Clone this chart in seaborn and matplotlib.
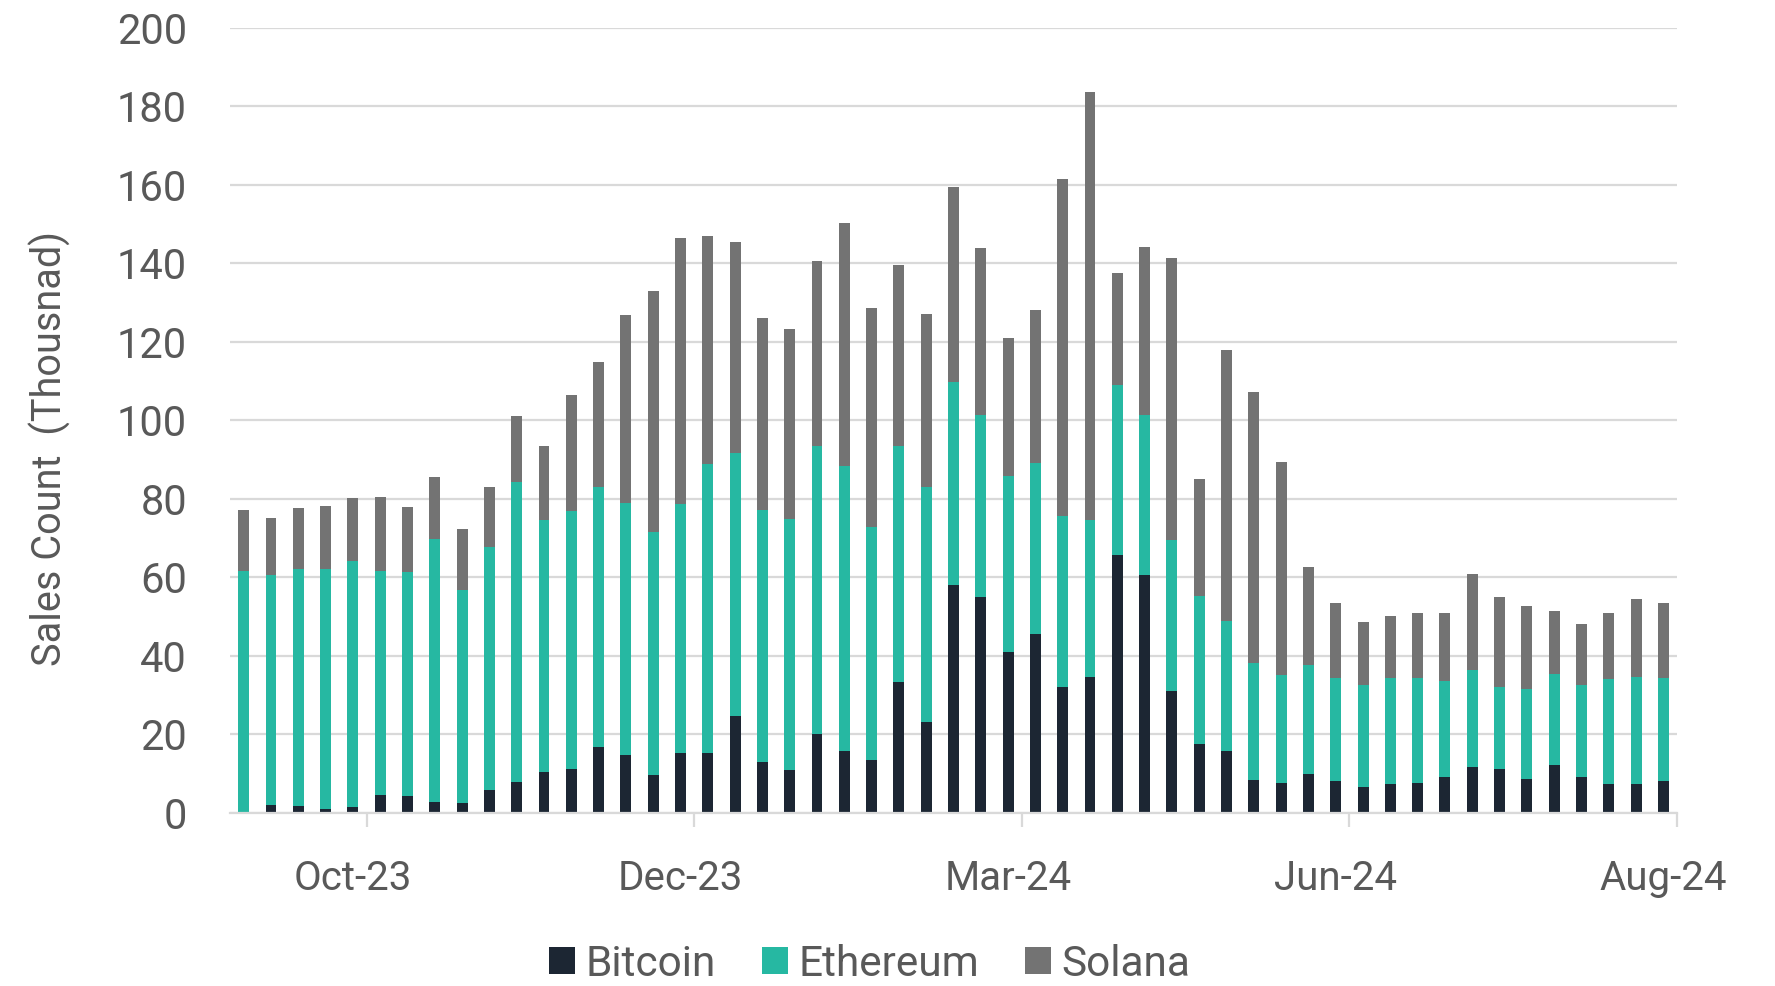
import numpy as np
import pandas as pd
import matplotlib
matplotlib.use("Agg")
import matplotlib.pyplot as plt
import seaborn as sns
from matplotlib.patches import Patch

# ---- data (thousands of sales, weekly) ----
bitcoin = [0.0, 2.1, 1.7, 1.1, 1.5, 4.6, 4.3, 2.9, 2.5, 5.9,
           7.9, 10.5, 11.3, 16.9, 14.8, 9.7, 15.2, 15.3, 24.6, 13.0,
           10.9, 20.0, 15.9, 13.5, 33.4, 23.3, 58.0, 55.0, 40.9, 45.6,
           32.2, 34.7, 65.6, 60.6, 31.2, 17.5, 15.8, 8.5, 7.7, 9.8,
           8.2, 6.6, 7.5, 7.7, 9.2, 11.7, 11.1, 8.6, 12.3, 9.2,
           7.3, 7.5, 8.2]
ethereum = [61.7, 58.5, 60.5, 61.1, 62.6, 57.1, 57.2, 67.0, 54.3, 61.8,
            76.4, 64.1, 65.6, 66.1, 64.1, 62.0, 63.4, 73.5, 67.0, 64.1,
            64.0, 73.6, 72.5, 59.4, 60.1, 59.8, 51.9, 46.4, 45.0, 43.5,
            43.4, 39.9, 43.5, 40.9, 38.3, 37.9, 33.0, 29.8, 27.4, 27.8,
            26.3, 26.0, 26.9, 26.7, 24.4, 24.7, 21.1, 23.0, 23.2, 23.5,
            26.9, 27.1, 26.2]
solana = [15.6, 14.5, 15.4, 16.0, 16.1, 18.8, 16.5, 15.7, 15.6, 15.4,
          16.8, 18.8, 29.7, 31.9, 47.9, 61.4, 67.9, 58.2, 54.0, 49.0,
          48.3, 47.0, 62.0, 55.7, 46.1, 44.0, 49.5, 42.5, 35.1, 39.1,
          86.0, 109.1, 28.6, 42.6, 71.8, 29.7, 69.2, 68.9, 54.3, 25.0,
          18.9, 16.1, 15.9, 16.6, 17.3, 24.4, 22.8, 21.2, 16.0, 15.5,
          16.7, 19.9, 19.1]
series_names = ["Bitcoin", "Ethereum", "Solana"]
colors = ["#1c2633", "#26b8a2", "#737373"]
tick_labels = ["Oct-23", "Dec-23", "Mar-24", "Jun-24", "Aug-24"]
label_bar_index = [4, 16, 28, 40, 52]

n = len(bitcoin)
df = pd.DataFrame({
    "week": np.arange(n),
    "Bitcoin": bitcoin,
    "Ethereum": ethereum,
    "Solana": solana,
})
df["cum_btc"] = df["Bitcoin"]
df["cum_eth"] = df["Bitcoin"] + df["Ethereum"]
df["cum_sol"] = df["cum_eth"] + df["Solana"]

sns.set_theme(style="white")
plt.rcParams["font.family"] = ["Roboto", "DejaVu Sans"]

fig = plt.figure(figsize=(17.75, 9.86), dpi=100)
ax = fig.add_axes([0.1296, 0.1755, 0.8152, 0.7961])

width = 0.4
for col, c in zip(["cum_sol", "cum_eth", "cum_btc"], [colors[2], colors[1], colors[0]]):
    sns.barplot(data=df, x="week", y=col, color=c, width=width,
                saturation=1, ax=ax, zorder=3, linewidth=0)

ax.set_xlim(-0.5, n - 0.5)
ax.set_ylim(0, 200)
ax.set_yticks(np.arange(0, 201, 20))
ax.yaxis.grid(True, color="#d9d9d9", linewidth=1.6, zorder=0)
ax.xaxis.grid(False)
for s in ["top", "right", "left"]:
    ax.spines[s].set_visible(False)
ax.spines["bottom"].set_color("#d9d9d9")
ax.spines["bottom"].set_linewidth(1.6)
ax.spines["bottom"].set_zorder(4)

# major ticks: small marks between groups; minor: labels
ax.set_xticks([i + 0.5 for i in label_bar_index])
ax.set_xticklabels([""] * len(label_bar_index))
ax.set_xticks(label_bar_index, minor=True)
ax.set_xticklabels(tick_labels, minor=True)
ax.tick_params(axis="x", which="major", length=10, width=1.6, color="#d9d9d9",
               direction="out", bottom=True)
ax.tick_params(axis="x", which="minor", length=0, pad=33, labelsize=29,
               labelcolor="#595959")
ax.tick_params(axis="y", length=0, pad=31, labelsize=30, labelcolor="#595959")
ax.set_xlabel("")
ax.set_ylabel("")

fig.text(0.028, 0.545, "Sales Count  (Thousnad)", rotation=90, ha="center",
         va="center", fontsize=28.5, color="#595959")

handles = [Patch(facecolor=c, edgecolor="none", label=l)
           for l, c in zip(series_names, colors)]
fig.legend(handles=handles, loc="center", bbox_to_anchor=(0.49, 0.022),
           ncol=3, frameon=False, fontsize=30.5, labelcolor="#595959",
           handlelength=0.6, handleheight=0.6, handletextpad=0.25,
           columnspacing=1.1)

fig.savefig("out.png", dpi=100, facecolor="white")
